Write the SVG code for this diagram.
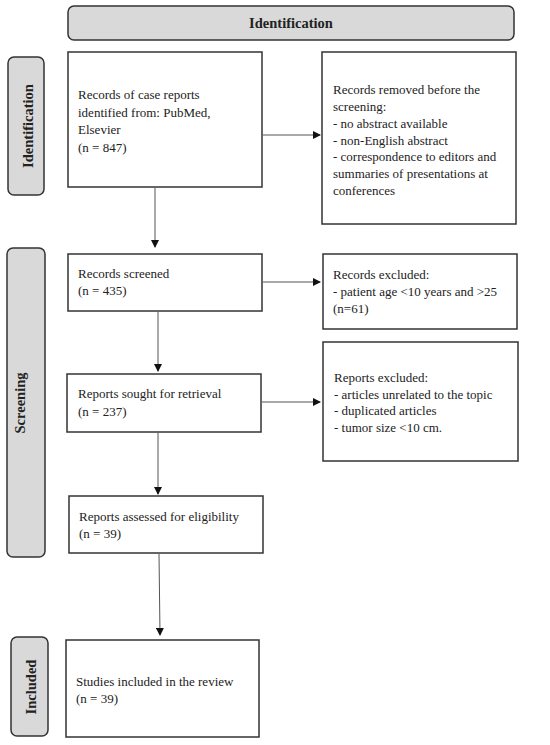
<svg xmlns="http://www.w3.org/2000/svg" width="550" height="745" viewBox="0 0 550 745">
<defs>
<marker id="ah" markerWidth="8" markerHeight="8" refX="7" refY="4" orient="auto" markerUnits="userSpaceOnUse">
<path d="M0,0 L8,4 L0,8 Z" fill="#111"/>
</marker>
<style>
.box{fill:#fff;stroke:#333;stroke-width:1.5}
.side{fill:#d9d9d9;stroke:#333;stroke-width:1.5}
.t{font-family:"Liberation Serif","DejaVu Serif",serif;font-size:13px;fill:#222}
.b{font-family:"Liberation Serif","DejaVu Serif",serif;font-size:14.5px;font-weight:bold;fill:#222}
.c{stroke:#555;stroke-width:1;fill:none;marker-end:url(#ah)}
</style>
</defs>
<rect width="550" height="745" fill="#fff"/>
<g id="banner">
<rect class="side" x="68" y="6" width="446" height="34" rx="6"/>
<text class="b" x="291" y="28" text-anchor="middle">Identification</text>
</g>
<g id="side-identification">
<rect class="side" x="8" y="57" width="36" height="138" rx="6"/>
<text class="b" transform="translate(33,126) rotate(-90)" text-anchor="middle">Identification</text>
</g>
<g id="side-screening">
<rect class="side" x="7" y="248" width="38" height="309" rx="6"/>
<text class="b" transform="translate(25,403) rotate(-90)" text-anchor="middle">Screening</text>
</g>
<g id="side-included">
<rect class="side" x="11" y="637" width="37" height="99" rx="6"/>
<text class="b" transform="translate(36,687) rotate(-90)" text-anchor="middle">Included</text>
</g>
<g id="n1">
<rect class="box" x="68" y="52" width="194" height="135"/>
<text class="t" x="78" y="99">Records of case reports</text>
<text class="t" x="78" y="117">identified from: PubMed,</text>
<text class="t" x="78" y="134">Elsevier</text>
<text class="t" x="78" y="152">(n = 847)</text>
</g>
<g id="n2">
<rect class="box" x="322" y="52" width="194" height="172"/>
<text class="t" x="333" y="94">Records removed before the</text>
<text class="t" x="333" y="111">screening:</text>
<text class="t" x="333" y="128">- no abstract available</text>
<text class="t" x="333" y="145">- non-English abstract</text>
<text class="t" x="333" y="161">- correspondence to editors and</text>
<text class="t" x="333" y="178">summaries of presentations at</text>
<text class="t" x="333" y="195">conferences</text>
</g>
<g id="n3">
<rect class="box" x="68" y="254" width="194" height="57"/>
<text class="t" x="78" y="278">Records screened</text>
<text class="t" x="78" y="295">(n = 435)</text>
</g>
<g id="n4">
<rect class="box" x="323" y="254" width="194" height="75"/>
<text class="t" x="333" y="279">Records excluded:</text>
<text class="t" x="333" y="296">- patient age &lt;10 years and &gt;25</text>
<text class="t" x="333" y="313">(n=61)</text>
</g>
<g id="n5">
<rect class="box" x="67" y="374" width="194" height="58"/>
<text class="t" x="78" y="398">Reports sought for retrieval</text>
<text class="t" x="78" y="416">(n = 237)</text>
</g>
<g id="n6">
<rect class="box" x="323" y="342" width="195" height="119"/>
<text class="t" x="334" y="382">Reports excluded:</text>
<text class="t" x="334" y="399">- articles unrelated to the topic</text>
<text class="t" x="334" y="415">- duplicated articles</text>
<text class="t" x="334" y="432">- tumor size &lt;10 cm.</text>
</g>
<g id="n7">
<rect class="box" x="69" y="496" width="194" height="57"/>
<text class="t" x="79" y="521">Reports assessed for eligibility</text>
<text class="t" x="79" y="538">(n = 39)</text>
</g>
<g id="n8">
<rect class="box" x="66" y="640" width="193" height="97"/>
<text class="t" x="76" y="686">Studies included in the review</text>
<text class="t" x="76" y="703">(n = 39)</text>
</g>
<g id="connectors">
<line class="c" x1="263" y1="135" x2="320" y2="135"/>
<line class="c" x1="155" y1="188" x2="155" y2="247"/>
<line class="c" x1="263" y1="282" x2="320" y2="282"/>
<line class="c" x1="158" y1="312" x2="158" y2="371"/>
<line class="c" x1="262" y1="402" x2="320" y2="402"/>
<line class="c" x1="158" y1="433" x2="158" y2="494"/>
<line class="c" x1="159" y1="554" x2="160" y2="635"/>
</g>
</svg>
